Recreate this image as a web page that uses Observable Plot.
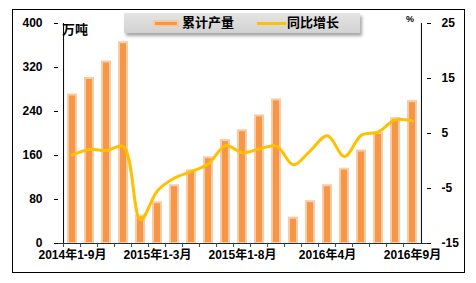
<!DOCTYPE html>
<html><head><meta charset="utf-8">
<script src="https://cdn.jsdelivr.net/npm/d3@7"></script>
<script src="https://cdn.jsdelivr.net/npm/@observablehq/plot@0.6"></script>
<style>
body{margin:0;background:#fff;font-family:"Liberation Sans","Noto Sans CJK SC",sans-serif;}
#wrap{position:relative;width:476px;height:283px;overflow:hidden;background:#fff;}
#border{position:absolute;left:12px;top:9px;width:453px;height:264px;border:1px solid #000;box-sizing:border-box;}
#chart{position:absolute;left:0;top:0;}
#legend{position:absolute;left:124px;top:13px;width:236px;height:20px;background:linear-gradient(#e4e4e4,#d2d2d2);box-shadow:2px 3px 3px rgba(0,0,0,0.35);font-weight:bold;font-size:13px;color:#000;}
.sw1{position:absolute;left:29px;top:7px;width:22px;height:3px;background:#F79646;border:2px solid #F9C9A0;}
.t1{position:absolute;left:58px;top:1px;line-height:17px;}
.sw2{position:absolute;left:133px;top:9px;width:29px;height:3px;background:#FFC000;}
.t2{position:absolute;left:163px;top:1px;line-height:17px;}
#unitL{position:absolute;left:62px;top:19px;font-size:13px;font-weight:bold;}
#unitR{position:absolute;left:406px;top:14px;font-size:9px;font-weight:bold;}
</style></head>
<body>
<div id="wrap">
  <div id="border"></div>
  <div id="chart"></div>
  <div id="legend"><div class="sw1"></div><div class="t1">累计产量</div><div class="sw2"></div><div class="t2">同比增长</div></div>
  <div id="unitL">万吨</div>
  <div id="unitR">%</div>
</div>
<script>
const categories = ["2014年1-9月","2014年1-10月","2014年1-11月","2014年1-12月",
  "2015年1-2月","2015年1-3月","2015年1-4月","2015年1-5月","2015年1-6月","2015年1-7月","2015年1-8月",
  "2015年1-9月","2015年1-10月",
  "2016年2月","2016年3月","2016年4月","2016年5月","2016年6月","2016年7月","2016年8月","2016年9月"];
const production = [270,300,330,365,50,74,105,132,156,187,205,232,261,46,76,105,135,168,200,227,258];
const growth = [1.1,2.1,1.9,2.6,-10.7,-5.4,-3.1,-1.9,-0.5,2.8,1.5,2.2,2.7,-0.7,1.9,4.6,0.8,4.7,5.3,7.5,7.3];
const leftTicks = [0,80,160,240,320,400];
const rightTicks = [-15,-5,5,15,25];
const labelTicks = ["2014年1-9月","2015年1-3月","2015年1-8月","2016年4月","2016年9月"];

const W = 476, H = 283, ML = 54, MR = 46, MT = 23, MB = 40;
const leftMax = 400, rMin = -15, rMax = 25;
const k = leftMax / (rMax - rMin);
const gToY = g => (g - rMin) * k;
const step = (W - ML - MR) / categories.length;
const data = categories.map((c, i) => ({c, p: production[i], g: growth[i]}));

const chart = Plot.plot({
  width: W, height: H,
  marginLeft: ML, marginRight: MR, marginTop: MT, marginBottom: MB,
  style: {fontFamily: '"Liberation Sans","Noto Sans CJK SC",sans-serif', fontSize: "12px", fontWeight: "bold", color: "#000", background: "transparent", overflow: "visible"},
  x: {type: "band", domain: categories, paddingInner: 0.55, paddingOuter: 0.275},
  y: {domain: [0, leftMax]},
  marks: [
    Plot.barY(data, {x: "c", y: "p", fill: "#F79646", stroke: "#F9CBA6", strokeWidth: 2}),
    Plot.line(data, {x: "c", y: d => gToY(d.g), stroke: "#FFC000", strokeWidth: 3, curve: "catmull-rom"}),
    Plot.ruleY([0], {stroke: "#1b3440"}),
    Plot.axisX({ticks: categories, tickSize: 4, tickFormat: () => "", dx: -step / 2, stroke: "#1f4e5f", label: null}),
    Plot.axisX({ticks: labelTicks, tickSize: 0, tickPadding: 7, label: null, fill: "#000"}),
    Plot.axisY({anchor: "left", ticks: leftTicks, tickSize: -4, tickPadding: 16, label: null}),
    Plot.axisY({anchor: "right", ticks: rightTicks.map(gToY), tickFormat: v => String(Math.round(v / k + rMin)), tickSize: -4, tickPadding: 15, label: null}),
    Plot.ruleX([categories[0]], {dx: -step / 2, y1: 0, y2: leftMax, stroke: "#000"}),
    Plot.ruleX([categories[categories.length - 1]], {dx: step / 2, y1: 0, y2: leftMax, stroke: "#000"})
  ]
});
document.getElementById("chart").appendChild(chart);
</script>
</body></html>
